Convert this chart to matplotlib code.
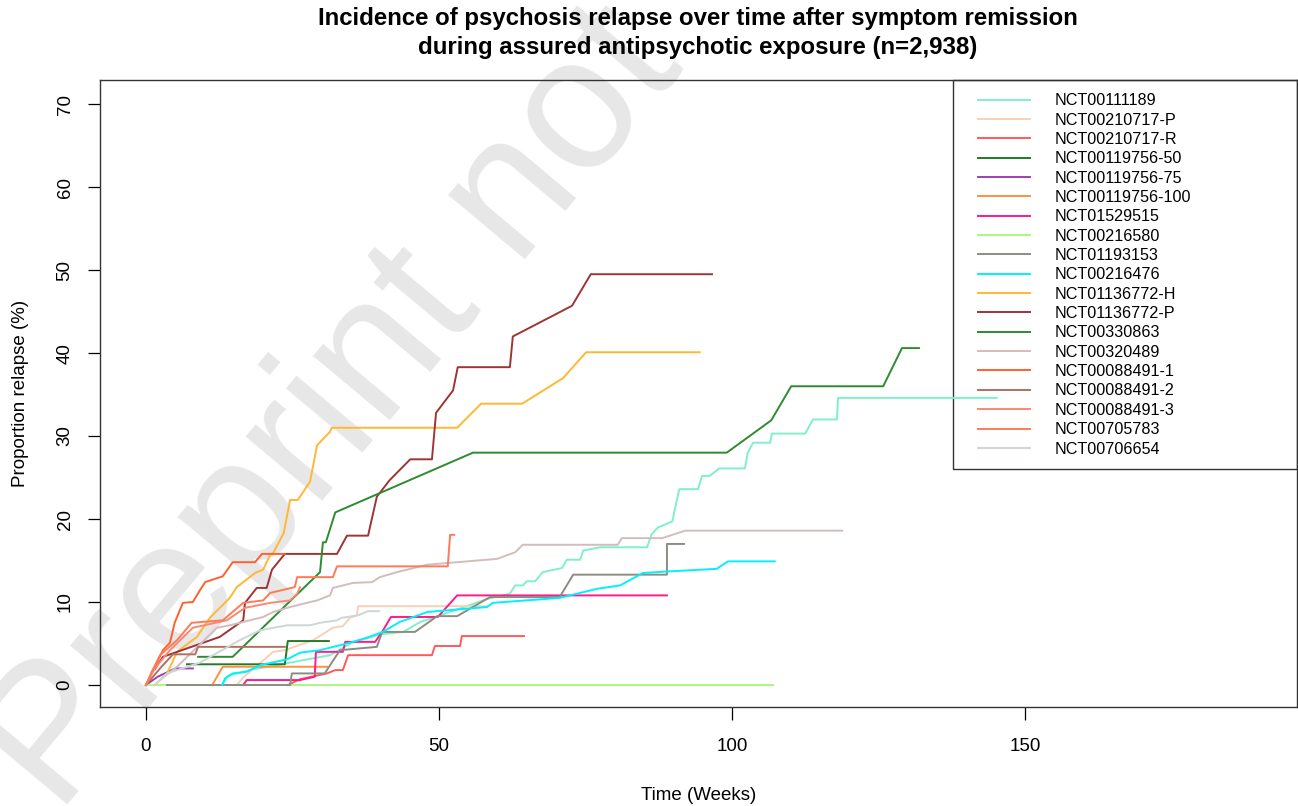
"""Incidencia de recaida de psicosis tras remision, por ensayo (19 curvas)."""
import matplotlib
matplotlib.use("Agg")
import matplotlib.pyplot as plt
from matplotlib.patches import Rectangle

plt.rcParams["font.family"] = ["Liberation Sans", "DejaVu Sans"]

# nombre, color, semanas, % recaida
trials = [
    "NCT00111189", "NCT00210717-P", "NCT00210717-R", "NCT00119756-50",
    "NCT00119756-75", "NCT00119756-100", "NCT01529515", "NCT00216580",
    "NCT01193153", "NCT00216476", "NCT01136772-H", "NCT01136772-P",
    "NCT00330863", "NCT00320489", "NCT00088491-1", "NCT00088491-2",
    "NCT00088491-3", "NCT00705783", "NCT00706654",
]
colors = [
    "#80EFCB", "#F3D2B8", "#FF5A5A", "#237A23", "#A040B0", "#FF9040",
    "#FF1A8C", "#A8F880", "#8C8C82", "#00F0FF", "#FFB833", "#9E3535",
    "#2E8B2E", "#D4BCBC", "#FF6030", "#B07060", "#FA8872", "#FF7A55",
    "#CCD6D6",
]

weeks_111189 = [13.0, 14.0, 17.7, 24.6, 31.4, 35.2, 39.9, 43.9, 46.8, 50.2, 58.4, 62.1, 63.0,
                64.3, 65.0, 66.4, 67.7, 71.0, 71.8, 74.1, 74.6, 77.5, 85.5, 86.3, 87.4, 89.8,
                91.0, 94.2, 94.9, 96.2, 97.8, 102.2, 102.7, 103.6, 106.5, 106.8, 112.5, 113.8,
                117.9, 118.1, 145.2]
pct_111189 = [0, 1.1, 1.8, 2.7, 3.6, 5.1, 6.1, 6.4, 7.6, 8.4, 10.4, 11.0, 12.0,
              12.0, 12.5, 12.5, 13.6, 14.1, 15.1, 15.1, 16.2, 16.6, 16.6, 18.2, 19.0, 19.7,
              23.6, 23.6, 25.2, 25.2, 26.1, 26.1, 28.0, 29.2, 29.2, 30.3, 30.3, 32.0,
              32.0, 34.6, 34.6]

weeks_210717p = [15.5, 16.6, 21.7, 23.7, 28.5, 31.9, 33.6, 34.8, 36.0, 36.2, 58.2]
pct_210717p = [0, 0.9, 4.0, 4.2, 5.4, 6.9, 7.1, 8.1, 8.4, 9.5, 9.5]

weeks_210717r = [24.2, 26.3, 30.9, 32.3, 33.6, 34.5, 48.8, 49.3, 53.6, 53.9, 64.5]
pct_210717r = [0, 0.7, 1.4, 1.8, 1.8, 3.6, 3.6, 4.7, 4.7, 5.9, 5.9]

weeks_119756_50 = [7.0, 23.7, 24.2, 31.2]
pct_119756_50 = [2.5, 2.5, 5.3, 5.3]

weeks_119756_75 = [0, 2.0, 5.0, 8.0]
pct_119756_75 = [0, 1.0, 2.0, 2.0]

weeks_119756_100 = [11.3, 13.1, 30.9]
pct_119756_100 = [0, 2.2, 2.2]

weeks_1529515 = [16.6, 17.2, 26.3, 28.8, 29.0, 33.6, 34.0, 39.1, 40.3, 41.8, 49.8, 53.1, 88.9]
pct_1529515 = [0, 0.6, 0.6, 1.0, 4.0, 4.0, 5.2, 5.2, 6.4, 8.2, 8.2, 10.8, 10.8]

weeks_216580 = [0, 107.0]
pct_216580 = [0, 0]

weeks_1193153 = [3.6, 24.6, 24.9, 30.5, 33.1, 39.4, 40.3, 45.9, 49.7, 53.1, 58.7, 70.6,
                 72.9, 88.9, 88.9, 91.8]
pct_1193153 = [0, 0, 1.4, 1.4, 4.2, 4.6, 6.4, 6.4, 8.3, 8.3, 10.6, 10.6,
               13.3, 13.3, 17.0, 17.0]

weeks_216476 = [13.0, 13.5, 14.8, 17.2, 19.5, 24.1, 26.3, 29.7, 34.8, 37.7, 40.4, 43.3, 48.0,
                58.2, 59.2, 70.6, 77.0, 80.9, 84.8, 89.4, 97.4, 99.3, 107.3]
pct_216476 = [0, 0.8, 1.4, 1.6, 2.4, 3.1, 3.9, 4.2, 5.1, 5.7, 6.4, 7.6, 8.8,
              9.4, 9.9, 10.5, 11.6, 12.0, 13.5, 13.7, 14.0, 14.9, 14.9]

weeks_1136772h = [1.5, 3.6, 5.3, 8.7, 10.9, 14.3, 15.5, 18.6, 20.0, 21.2, 21.7, 23.5, 24.6,
                  25.9, 28.0, 29.2, 31.4, 31.7, 53.1, 57.2, 64.2, 71.2, 75.1, 94.5]
pct_1136772h = [0, 1.4, 4.0, 5.8, 8.1, 10.5, 11.8, 13.5, 13.9, 15.7, 15.9, 18.3, 22.3,
                22.3, 24.5, 28.9, 30.5, 31.0, 31.0, 33.9, 33.9, 37.0, 40.1, 40.1]

weeks_1136772p = [1.5, 2.9, 12.6, 16.6, 16.9, 18.9, 20.6, 21.5, 23.7, 32.6, 34.3, 37.9, 39.4,
                  41.6, 45.1, 48.8, 49.5, 52.4, 53.2, 62.1, 62.6, 72.7, 75.9, 96.6]
pct_1136772p = [1.9, 3.4, 5.8, 7.8, 9.9, 11.7, 11.7, 13.9, 15.8, 15.8, 18.0, 18.0, 22.7,
                24.7, 27.2, 27.2, 32.8, 35.5, 38.3, 38.3, 42.0, 45.7, 49.5, 49.5]

weeks_330863 = [8.9, 14.8, 29.7, 30.2, 30.7, 32.3, 55.8, 99.1, 106.7, 110.1, 125.8, 129.0, 131.9]
pct_330863 = [3.4, 3.4, 13.6, 17.2, 17.2, 20.8, 28.0, 28.0, 31.9, 36.0, 36.0, 40.6, 40.6]

weeks_320489 = [2.4, 5.3, 12.1, 14.3, 16.6, 20.0, 21.7, 24.6, 29.2, 31.4, 31.9, 35.3, 38.6,
                39.9, 42.8, 48.0, 59.9, 63.0, 64.3, 80.5, 81.2, 88.1, 92.0, 118.8]
pct_320489 = [0.6, 2.2, 6.9, 7.2, 7.6, 8.2, 8.8, 9.4, 10.2, 10.8, 11.7, 12.3, 12.4,
              13.0, 13.6, 14.5, 15.2, 16.0, 16.9, 16.9, 17.7, 17.7, 18.6, 18.6]

weeks_88491_1 = [0, 2.9, 4.1, 4.9, 6.3, 8.0, 9.2, 10.1, 13.1, 14.8, 18.6, 19.8, 23.7]
pct_88491_1 = [0, 4.2, 5.1, 7.5, 9.9, 10.0, 11.4, 12.4, 13.1, 14.8, 14.8, 15.8, 15.8]

weeks_88491_2 = [0, 2.4, 4.6, 8.4, 8.9, 23.7]
pct_88491_2 = [0, 2.0, 3.7, 3.7, 4.6, 4.6]

weeks_88491_3 = [0, 1.5, 4.1, 8.0, 13.8, 16.9, 21.2, 24.6, 25.8, 26.3]
pct_88491_3 = [0, 2.0, 4.2, 6.9, 7.8, 9.3, 9.9, 10.2, 11.0, 11.8]

weeks_705783 = [0, 1.0, 2.4, 5.3, 7.8, 13.1, 16.6, 20.0, 21.2, 25.4, 25.8, 31.9, 32.6,
                51.5, 51.9, 52.6]
pct_705783 = [0, 1.6, 3.6, 5.4, 7.5, 7.8, 9.9, 10.2, 11.1, 11.8, 13.0, 13.0, 14.3,
              14.3, 18.1, 18.1]

weeks_706654 = [1.5, 3.6, 9.2, 16.0, 19.5, 24.1, 28.0, 29.7, 32.6, 33.4, 36.2, 37.9, 39.8]
pct_706654 = [0, 1.4, 2.7, 5.4, 6.6, 7.2, 7.2, 7.5, 7.8, 8.1, 8.4, 8.9, 8.9]

curves = [
    (weeks_111189, pct_111189), (weeks_210717p, pct_210717p), (weeks_210717r, pct_210717r),
    (weeks_119756_50, pct_119756_50), (weeks_119756_75, pct_119756_75),
    (weeks_119756_100, pct_119756_100), (weeks_1529515, pct_1529515),
    (weeks_216580, pct_216580), (weeks_1193153, pct_1193153), (weeks_216476, pct_216476),
    (weeks_1136772h, pct_1136772h), (weeks_1136772p, pct_1136772p),
    (weeks_330863, pct_330863), (weeks_320489, pct_320489), (weeks_88491_1, pct_88491_1),
    (weeks_88491_2, pct_88491_2), (weeks_88491_3, pct_88491_3),
    (weeks_705783, pct_705783), (weeks_706654, pct_706654),
]

fig = plt.figure(figsize=(12.98, 8.06), dpi=100)
ax = fig.add_axes([0.0770, 0.1228, 0.9222, 0.7779])
ax.patch.set_alpha(0)
ax.set_zorder(2)  # curvas por encima de la marca de agua

# marca de agua del preprint (cortada por el borde, como en el original)
fig.text(0.045, -0.012, "Preprint not", fontsize=136, color="#E7E7E7",
         rotation=50, rotation_mode="anchor", ha="left", va="baseline", zorder=0)

for name, col, (w, p) in zip(trials, colors, curves):
    ax.plot(w, p, color=col, lw=1.4, label=name)

ax.set_xlim(-7.85, 196.4)
ax.set_ylim(-2.65, 72.9)
ax.set_xticks([0, 50, 100, 150])
ax.set_yticks(range(0, 80, 10))
ax.tick_params(axis="both", direction="out", length=9, width=0.9, labelsize=13.5)
ax.tick_params(axis="x", pad=13)
ax.tick_params(axis="y", pad=10)
plt.setp(ax.get_yticklabels(), rotation=90, va="center")
for sp in ax.spines.values():
    sp.set_color("#333333")
    sp.set_linewidth(1.0)

ax.set_xlabel("Time (Weeks)", fontsize=13.5, labelpad=23)
ax.set_ylabel("Proportion relapse (%)", fontsize=13.5, labelpad=20)

fig.text(698 / 1298, 1 - 7 / 806,
         "Incidence of psychosis relapse over time after symptom remission\n"
         "during assured antipsychotic exposure (n=2,938)",
         ha="center", va="top", fontsize=17.3, fontweight="bold", linespacing=1.36)

leg = ax.legend(loc="upper left", bbox_to_anchor=(0.7335, 0.979), frameon=False,
                fontsize=11.6, handlelength=3.2, handletextpad=1.55, labelspacing=0.27,
                borderpad=0, borderaxespad=0)
ax.add_patch(Rectangle((0.7126, 0.3796), 0.2874, 0.6204, transform=ax.transAxes,
                       fill=False, edgecolor="#333333", lw=1.0, clip_on=False))

fig.savefig("out.png", dpi=100)
